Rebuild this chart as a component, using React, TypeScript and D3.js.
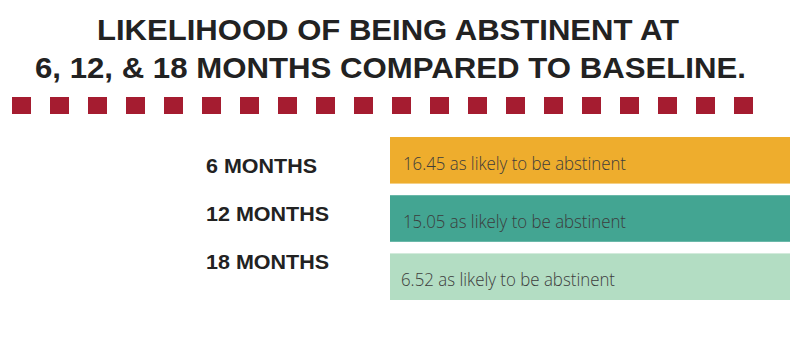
import React from "react";
import * as d3 from "d3";

const titleLines = ["LIKELIHOOD OF BEING ABSTINENT AT", "6, 12, & 18 MONTHS COMPARED TO BASELINE."];
const categories = ["6 MONTHS", "12 MONTHS", "18 MONTHS"];
const values = [16.45, 15.05, 6.52];
const barColors = ["#EEAD2D", "#43A592", "#B3DDC3"];
const valueSuffix = " as likely to be abstinent";
const dashCount = 20;

const W = 790;
const H = 354;

export default function App() {
  const yBar = d3.scaleBand<number>().domain(d3.range(categories.length)).range([137, 300]).paddingInner(0.2).paddingOuter(0);
  const yLabel = d3.scalePoint<number>().domain(d3.range(categories.length)).range([173, 269]);
  const xDash = d3.scaleBand<number>().domain(d3.range(dashCount)).range([12, 753]).paddingInner(0.5).paddingOuter(0);
  const xBar = d3.scaleLinear().domain([0, 1]).range([390, W]);

  const titleWidths = [582, 711];
  const titleX = [97, 35];
  const titleY = [39.5, 77.5];
  const labelWidths = [111, 123, 123];
  const valueTextWidths = [223, 223, 214];

  return (
    <svg width={W} height={H} style={{ position: "absolute", left: 0, top: 0, background: "#fff" }}>
      {titleLines.map((t, i) => (
        <text key={t} x={titleX[i]} y={titleY[i]} fontFamily="'Liberation Sans', Arial, sans-serif" fontWeight={700}
          fontSize={29.5} fill="#222" textLength={titleWidths[i]} lengthAdjust="spacingAndGlyphs">{t}</text>
      ))}
      {d3.range(dashCount).map((i) => (
        <rect key={i} x={xDash(i)} y={97} width={xDash.bandwidth()} height={17} fill="#A51C30" />
      ))}
      {categories.map((c, i) => (
        <g key={c}>
          <text x={206} y={yLabel(i)} fontFamily="'Liberation Sans', Arial, sans-serif" fontWeight={700} fontSize={21}
            fill="#222" textLength={labelWidths[i]} lengthAdjust="spacingAndGlyphs">{c}</text>
          <rect x={xBar(0)} y={yBar(i)} width={xBar(1) - xBar(0)} height={yBar.bandwidth()} fill={barColors[i]} />
          <text x={i === 2 ? 401 : 403} y={(yBar(i) as number) + yBar.bandwidth() / 2 + 9.5} fontFamily="'Open Sans', Lato, sans-serif"
            fontWeight={300} fontSize={19} fill="#3c3c3c" textLength={valueTextWidths[i]} lengthAdjust="spacingAndGlyphs">
            {`${values[i].toFixed(2)}${valueSuffix}`}
          </text>
        </g>
      ))}
    </svg>
  );
}
